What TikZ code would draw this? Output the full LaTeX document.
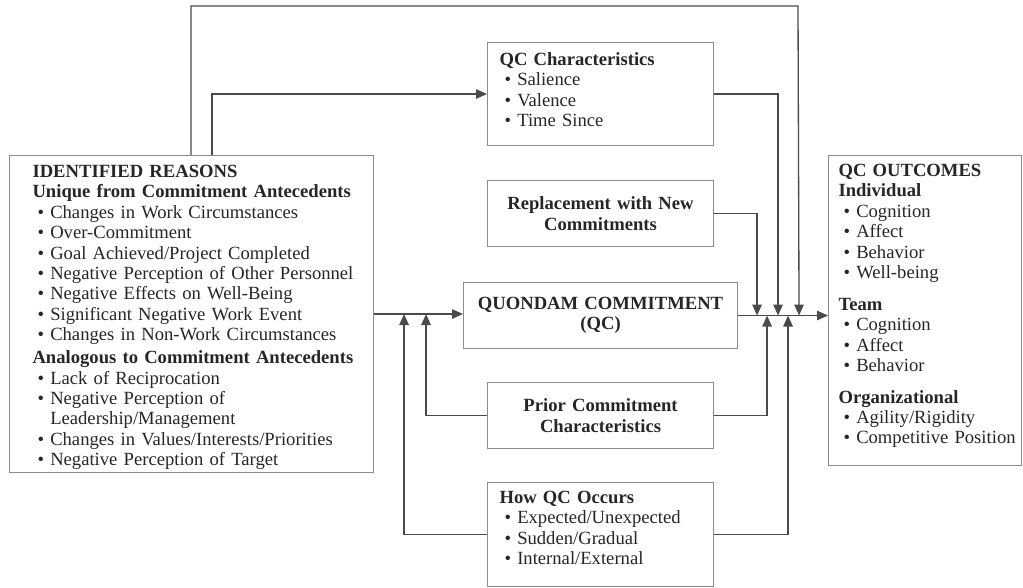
\documentclass[tikz,border=0pt]{standalone}
\usepackage{fontspec}
\setmainfont{Liberation Serif}
\usepackage{tikz}
\usetikzlibrary{calc,arrows.meta}

\definecolor{linegray}{HTML}{4A4A4A}
\definecolor{boxgray}{HTML}{8C8C8C}
\newcommand{\itm}{\hspace*{0.1cm}\textbullet\ }
\newcommand{\itmgap}{\hspace*{0.1cm}\phantom{\textbullet\ }}

\tikzset{
  box/.style={draw=boxgray, line width=0.6pt, rectangle, anchor=north west, inner ysep=0pt,
    font=\fontsize{10.6}{11.6}\selectfont, text=black!85},
  listbox/.style={box, align=left, text height=#1},
  textindent/.style={execute at begin node={\leftskip=#1\relax\hyphenpenalty=10000\relax}},
  conn/.style={draw=linegray, line width=0.75pt, -{Triangle[length=2.2mm,width=1.9mm]}}
}

\begin{document}
\begin{tikzpicture}
\useasboundingbox (0,0) rectangle (20.46,-11.76);

% the boxes
\node[listbox=0.44cm, text depth=5.90cm, text width=7.08cm, inner xsep=0.1cm, textindent=0.36cm] (reasons) at (0.18,-3.10) {%
\textbf{IDENTIFIED REASONS}\\
\textbf{Unique from Commitment Antecedents}\\
\itm Changes in Work Circumstances\\
\itm Over-Commitment\\
\itm Goal Achieved/Project Completed\\
\itm Negative Perception of Other Personnel\\
\itm Negative Effects on Well-Being\\
\itm Significant Negative Work Event\\
\itm Changes in Non-Work Circumstances\\[1.5pt]
\textbf{Analogous to Commitment Antecedents}\\
\itm Lack of Reciprocation\\
\itm Negative Perception of\\
\itmgap Leadership/Management\\
\itm Changes in Values/Interests/Priorities\\
\itm Negative Perception of Target};

\node[listbox=0.46cm, text depth=1.60cm, text width=4.04cm, inner xsep=0.24cm, textindent=0cm] (qcchar) at (9.74,-0.84) {%
\textbf{QC Characteristics}\\
\itm Salience\\
\itm Valence\\
\itm Time Since};

\node[box, minimum width=4.52cm, minimum height=1.32cm, text width=4.04cm, inner xsep=0.24cm, align=center] (replace) at (9.74,-3.60) {%
\textbf{Replacement with New}\\ \textbf{Commitments}};

\node[box, minimum width=5.48cm, minimum height=1.32cm, text width=5.0cm, inner xsep=0.24cm, align=center] (quondam) at (9.26,-5.64) {%
\textbf{QUONDAM COMMITMENT}\\ \textbf{(QC)}};

\node[box, minimum width=4.52cm, minimum height=1.32cm, text width=4.04cm, inner xsep=0.24cm, align=center] (prior) at (9.74,-7.64) {%
\textbf{Prior Commitment}\\ \textbf{Characteristics}};

\node[listbox=0.42cm, text depth=1.66cm, text width=4.04cm, inner xsep=0.24cm, textindent=0cm] (howqc) at (9.74,-9.64) {%
\textbf{How QC Occurs}\\
\itm Expected/Unexpected\\
\itm Sudden/Gradual\\
\itm Internal/External};

\node[listbox=0.42cm, text depth=5.78cm, text width=3.78cm, inner xsep=0.04cm, textindent=0.16cm] (outcomes) at (16.56,-3.10) {%
\textbf{QC OUTCOMES}\\
\textbf{Individual}\\
\itm Cognition\\
\itm Affect\\
\itm Behavior\\
\itm Well-being\\[6.5pt]
\textbf{Team}\\
\itm Cognition\\
\itm Affect\\
\itm Behavior\\[6.5pt]
\textbf{Organizational}\\
\itm Agility/Rigidity\\
\itm Competitive Position};

% junctions on the main line
\coordinate (inA) at ($(reasons.east)+(0.60,0)$);
\coordinate (inB) at ($(reasons.east)+(1.04,0)$);
\coordinate (m1) at ($(quondam.east)+(0.38,0)$);
\coordinate (m2) at ($(quondam.east)+(0.58,0)$);
\coordinate (m3) at ($(quondam.east)+(0.80,0)$);
\coordinate (m4) at ($(quondam.east)+(1.00,0)$);
\coordinate (m5) at ($(quondam.east)+(1.22,0)$);
\coordinate (loop) at (15.96,-0.12);

% main line
\draw[conn] (reasons.east) -- (reasons.east -| quondam.west);
\draw[conn] (quondam.east) -- (quondam.east -| outcomes.west);

% feedback into the left junctions
\draw[conn] (prior.west) -| (inB);
\draw[conn] (howqc.west) -| (inA);

% into the right junctions
\draw[conn] (replace.east) -| (m1);
\draw[conn] (prior.east) -| (m2);
\draw[conn] (qcchar.east) -| (m3);
\draw[conn] (howqc.east) -| (m4);

% over the top
\draw[conn] ($(reasons.north west)+(3.64,0)$) |- (loop) -- (m5);
\draw[conn] ($(reasons.north west)+(4.06,0)$) |- (qcchar.west);

\end{tikzpicture}
\end{document}
